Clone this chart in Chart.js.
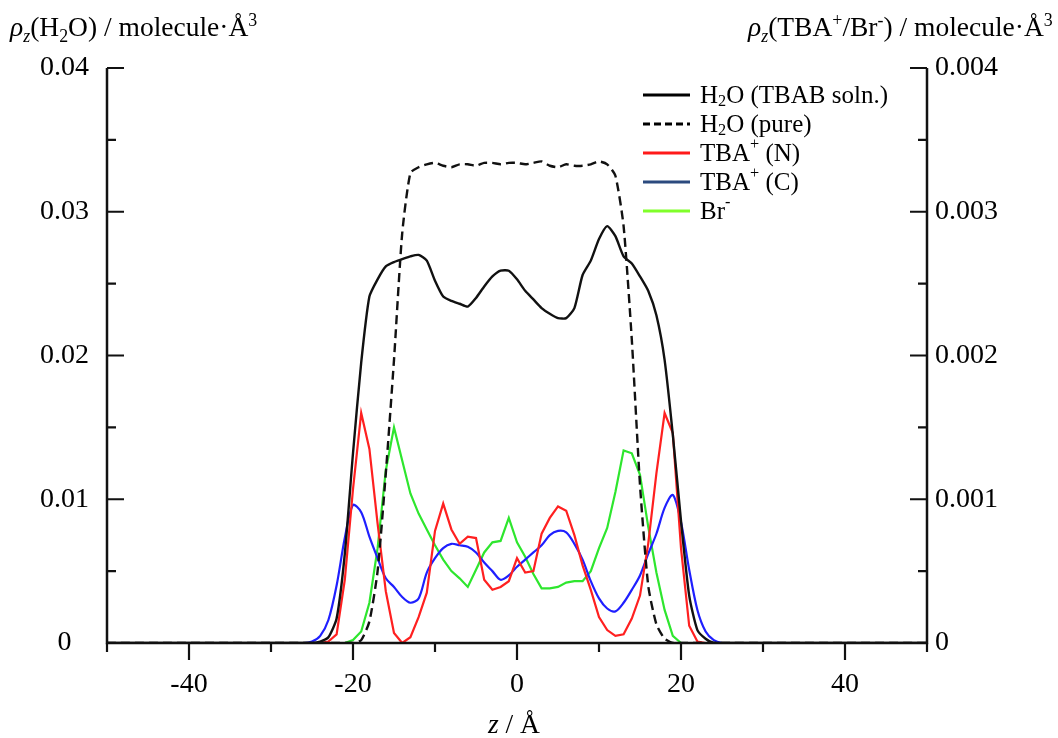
<!DOCTYPE html>
<html lang="ja">
<head>
  <meta charset="UTF-8">
  <title>Density profiles</title>
  <script src="https://cdn.jsdelivr.net/npm/chart.js"></script>
  <style>
    body {
      margin: 0;
      background: #fff;
    }
    #wrap {
      width: 1058px;
      height: 738px;
    }
  </style>
</head>
<body>
  <div id="wrap"><canvas id="grafico" width="1058" height="738"></canvas></div>

  <script>
    // z positions (Angstrom)
    const eixoZ = [-50, -26, -25, -24, -23, -22, -21, -20, -19, -18, -17, -16, -15, -14, -13, -12, -11, -10, -9, -8, -7, -6, -5, -4, -3, -2, -1,
      0, 1, 2, 3, 4, 5, 6, 7, 8, 9, 10, 11, 12, 13, 14, 15, 16, 17, 18, 19, 20, 21, 22, 23, 24, 25, 26, 50];

    // water density (left axis)
    const aguaTBAB = [0, 0, 0, 0.0001, 0.0004, 0.0017, 0.0062, 0.0132, 0.0195, 0.0241, 0.0253, 0.0262, 0.0265, 0.0267, 0.0269, 0.027, 0.0266, 0.0252, 0.0241, 0.0238, 0.0236, 0.0234, 0.024, 0.0248, 0.0255, 0.0259, 0.0259,
      0.0253, 0.0245, 0.0239, 0.0233, 0.0229, 0.0226, 0.0226, 0.0233, 0.0256, 0.0266, 0.0281, 0.029, 0.0283, 0.0269, 0.0264, 0.0255, 0.0245, 0.0228, 0.0197, 0.0145, 0.0085, 0.0033, 0.0009, 0.0003, 0, 0, 0, 0];
    const aguaPura = [0, 0, 0, 0, 0, 0, 0, 0, 0.0002, 0.0015, 0.005, 0.0118, 0.0197, 0.0285, 0.0327, 0.0331, 0.0333, 0.0334, 0.0332, 0.0331, 0.0333, 0.0333, 0.0332, 0.0334, 0.0334, 0.0333, 0.0334,
      0.0334, 0.0333, 0.0334, 0.0335, 0.0332, 0.0331, 0.0333, 0.0332, 0.0332, 0.0333, 0.0335, 0.0333, 0.0325, 0.029, 0.0211, 0.011, 0.004, 0.0013, 0.0003, 0, 0, 0, 0, 0, 0, 0, 0, 0];

    // ion densities (right axis)
    const tbaN = [0, 0, 0, 0, 0.00001, 0.00006, 0.00044, 0.00107, 0.0016, 0.00135, 0.00083, 0.00036, 0.00007, 0, 0.00004, 0.00018, 0.00035, 0.00078, 0.00097, 0.00079, 0.00069, 0.00074, 0.00073, 0.00044, 0.00037, 0.00039, 0.00043,
      0.00059, 0.00049, 0.0005, 0.00076, 0.00087, 0.00095, 0.00092, 0.00075, 0.00054, 0.00037, 0.00018, 0.00009, 0.00005, 0.00006, 0.00017, 0.00033, 0.00069, 0.00118, 0.0016, 0.00146, 0.00066, 0.00012, 0.00001, 0, 0, 0, 0, 0];
    const tbaC = [0, 0, 0.00001, 0.00005, 0.00016, 0.0004, 0.00073, 0.00096, 0.00091, 0.00074, 0.00059, 0.00045, 0.00039, 0.00032, 0.00028, 0.00031, 0.00049, 0.00059, 0.00066, 0.00069, 0.00068, 0.00067, 0.00063, 0.00056, 0.0005, 0.00044, 0.00047,
      0.00053, 0.00058, 0.00063, 0.00068, 0.00075, 0.00078, 0.00077, 0.00069, 0.00058, 0.00043, 0.00031, 0.00024, 0.00022, 0.00028, 0.00037, 0.00047, 0.00062, 0.00076, 0.00094, 0.00103, 0.00084, 0.00051, 0.00023, 0.00008, 0.00002, 0, 0, 0];
    const brom = [0, 0, 0, 0, 0, 0, 0, 0.00002, 0.00008, 0.00028, 0.00066, 0.0012, 0.0015, 0.00127, 0.00104, 0.0009, 0.00079, 0.00068, 0.00058, 0.0005, 0.00045, 0.00039, 0.00051, 0.00063, 0.0007, 0.00071, 0.00087,
      0.0007, 0.0006, 0.00048, 0.00038, 0.00038, 0.00039, 0.00042, 0.00043, 0.00043, 0.0005, 0.00066, 0.0008, 0.00105, 0.00134, 0.00132, 0.00117, 0.00081, 0.00049, 0.00023, 0.00005, 0, 0, 0, 0, 0, 0, 0, 0];

    const SERIF = "'Liberation Serif', 'DejaVu Serif', serif";

    function pontos(arr) {
      return eixoZ.map((z, i) => ({ x: z, y: arr[i] }));
    }

    // draws text with sub/superscripts; parts = [[text, style], ...]
    function textoRico(ctx, parts, x, y, size) {
      let cx = x;
      parts.forEach(p => {
        const t = p[0], st = p[1] || '';
        const small = st.includes('sub') || st.includes('sup');
        const fs = small ? size * 0.65 : size;
        ctx.font = (st.includes('it') ? 'italic ' : '') + fs + 'px ' + SERIF;
        let dy = 0;
        if (st.includes('sub')) dy = size * 0.22;
        if (st.includes('sup')) dy = -size * 0.36;
        ctx.fillText(t, cx, y + dy);
        cx += ctx.measureText(t).width;
      });
      return cx - x;
    }

    const legenda = [
      { cor: '#000', dash: [], parts: [['H'], ['2', 'sub'], ['O (TBAB soln.)']] },
      { cor: '#000', dash: [7, 4], parts: [['H'], ['2', 'sub'], ['O (pure)']] },
      { cor: '#ff1a1a', dash: [], parts: [['TBA'], ['+', 'sup'], [' (N)']] },
      { cor: '#2b4a7e', dash: [], parts: [['TBA'], ['+', 'sup'], [' (C)']] },
      { cor: '#80ff2a', dash: [], parts: [['Br'], ['-', 'sup']] }
    ];

    const eixos = {
      id: 'eixos',
      afterDraw(chart) {
        const ctx = chart.ctx;
        const a = chart.chartArea;
        const sx = chart.scales.x, sy = chart.scales.y, sy2 = chart.scales.y2;
        ctx.save();
        ctx.strokeStyle = '#111';
        ctx.fillStyle = '#000';
        ctx.lineWidth = 2.5;
        ctx.lineCap = 'butt';
        // axis lines
        ctx.beginPath();
        ctx.moveTo(a.left, a.top);
        ctx.lineTo(a.left, a.bottom);
        ctx.lineTo(a.right, a.bottom);
        ctx.lineTo(a.right, a.top);
        ctx.stroke();
        // ticks (inside on y, outside on x)
        ctx.lineWidth = 2.2;
        ctx.beginPath();
        sy.ticks.forEach((t, i) => {
          const p = sy.getPixelForValue(t.value);
          const len = i % 2 === 0 ? 17 : 9;
          ctx.moveTo(a.left, p); ctx.lineTo(a.left + len, p);
        });
        sy2.ticks.forEach((t, i) => {
          const p = sy2.getPixelForValue(t.value);
          const len = i % 2 === 0 ? 17 : 9;
          ctx.moveTo(a.right, p); ctx.lineTo(a.right - len, p);
        });
        sx.ticks.forEach(t => {
          const p = sx.getPixelForValue(t.value);
          const len = Math.round(t.value) % 20 === 0 ? 17 : 9;
          ctx.moveTo(p, a.bottom); ctx.lineTo(p, a.bottom + len);
        });
        ctx.stroke();

        // axis titles
        ctx.textBaseline = 'alphabetic';
        ctx.textAlign = 'left';
        textoRico(ctx, [['ρ', 'it'], ['z', 'it sub'], ['(H'], ['2', 'sub'], ['O) / molecule·Å'], ['3', 'sup']], 10, 36, 27.5);
        textoRico(ctx, [['ρ', 'it'], ['z', 'it sub'], ['(TBA'], ['+', 'sup'], ['/Br'], ['-', 'sup'], [') / molecule·Å'], ['3', 'sup']], 748, 36, 27.5);
        textoRico(ctx, [['z', 'it'], [' / Å']], 488, 733, 27.5);

        // legend
        ctx.textBaseline = 'middle';
        legenda.forEach((l, i) => {
          const y = 95 + i * 29;
          ctx.strokeStyle = l.cor;
          ctx.lineWidth = 3;
          ctx.setLineDash(l.dash);
          ctx.beginPath();
          ctx.moveTo(643, y); ctx.lineTo(690, y);
          ctx.stroke();
          ctx.setLineDash([]);
          ctx.fillStyle = '#000';
          textoRico(ctx, l.parts, 700, y + 1, 25);
        });
        ctx.restore();
      }
    };

    const ehMaior = (v, passo) => Math.abs(v / passo - Math.round(v / passo)) < 1e-6;

    new Chart(document.getElementById('grafico'), {
      type: 'line',
      data: {
        datasets: [
          { label: 'H2O (TBAB soln.)', data: pontos(aguaTBAB), borderColor: '#111', borderWidth: 2.4, yAxisID: 'y', tension: 0.2 },
          { label: 'H2O (pure)', data: pontos(aguaPura), borderColor: '#111', borderWidth: 2.4, borderDash: [9, 5], yAxisID: 'y', tension: 0.2 },
          { label: 'TBA+ (N)', data: pontos(tbaN), borderColor: '#ff2020', borderWidth: 2.2, yAxisID: 'y2' },
          { label: 'TBA+ (C)', data: pontos(tbaC), borderColor: '#1f1fff', borderWidth: 2.2, yAxisID: 'y2', tension: 0.3 },
          { label: 'Br-', data: pontos(brom), borderColor: '#2ee62e', borderWidth: 2.2, yAxisID: 'y2' }
        ]
      },
      options: {
        responsive: false,
        animation: false,
        devicePixelRatio: 1,
        layout: { padding: { top: 68, left: 0, right: 0, bottom: 0 } },
        elements: { point: { radius: 0 } },
        plugins: { legend: { display: false }, tooltip: { enabled: false } },
        scales: {
          x: {
            type: 'linear', min: -50, max: 50,
            grid: { display: false, drawTicks: false }, border: { display: false },
            ticks: {
              stepSize: 10, padding: 25, color: '#000', maxRotation: 0,
              font: { family: SERIF, size: 28 },
              callback: v => (ehMaior(v, 20) ? String(Math.round(v)) : '')
            },
            afterFit: s => { s.height = 95; }
          },
          y: {
            position: 'left', min: 0, max: 0.04,
            grid: { display: false, drawTicks: false }, border: { display: false },
            ticks: {
              stepSize: 0.005, padding: 18, color: '#000', crossAlign: 'center',
              font: { family: SERIF, size: 28 },
              callback: v => (ehMaior(v, 0.01) ? (Math.abs(v) < 1e-9 ? '0' : v.toFixed(2)) : '')
            },
            afterFit: s => { s.width = 107; }
          },
          y2: {
            position: 'right', min: 0, max: 0.004,
            grid: { display: false, drawTicks: false }, border: { display: false },
            ticks: {
              stepSize: 0.0005, padding: 8, color: '#000',
              font: { family: SERIF, size: 28 },
              callback: v => (ehMaior(v, 0.001) ? (Math.abs(v) < 1e-9 ? '0' : v.toFixed(3)) : '')
            },
            afterFit: s => { s.width = 131; }
          }
        }
      },
      plugins: [eixos]
    });
  </script>
</body>
</html>
